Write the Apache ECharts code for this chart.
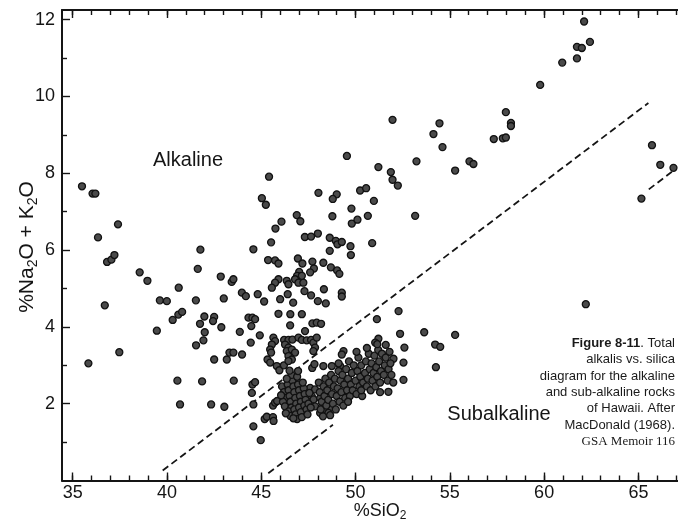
<!DOCTYPE html>
<html>
<head>
<meta charset="utf-8">
<script src="https://cdn.jsdelivr.net/npm/echarts@6/dist/echarts.min.js"></script>
<style>
  html, body { margin: 0; padding: 0; background: #ffffff; }
  #chart { width: 678px; height: 521px; }
</style>
</head>
<body>
<div id="chart"></div>
<script>
// ---- Axis ticks ----
const xMajorTicks = [35, 40, 45, 50, 55, 60, 65];
const xMinorTicks = [35, 36, 37, 38, 39, 40, 41, 42, 43, 44, 45, 46, 47, 48, 49, 50,
                     51, 52, 53, 54, 55, 56, 57, 58, 59, 60, 61, 62, 63, 64, 65, 66, 67];
const yMajorTicks = [2, 4, 6, 8, 10, 12];
const yMinorTicks = [1, 3, 5, 7, 9, 11];
const xRange = [34.43, 67.1];
const yRange = [0, 12.25];

// ---- Samples: [%SiO2, %Na2O + K2O] ----
// low-silica alkalic lavas
const lowSilicaSamples = [
  [35.49,7.66],[36.05,7.47],[36.20,7.47],[37.40,6.67],[36.34,6.33],[36.82,5.69],[37.05,5.75],
  [37.21,5.87],[36.70,4.56],[38.55,5.42],[38.96,5.20],[39.62,4.69],[39.99,4.67],[40.62,5.02],
  [40.30,4.18],[40.60,4.32],[40.80,4.39],[41.77,6.01],[41.63,5.51],[41.53,4.69],[42.85,5.31],
  [43.01,4.74],[41.98,4.27],[41.75,4.08],[42.50,4.26],[42.44,4.15],[42.88,3.99],[39.46,3.90],
  [35.83,3.05],[37.47,3.34],[40.55,2.60],[40.69,1.98],[41.54,3.52],[41.86,2.58],[41.93,3.65],
  [42.00,3.86],[42.50,3.15],[42.34,1.98],[43.17,3.15],[43.04,1.92],[43.31,3.33],[43.52,3.33],
  [43.54,2.60],[43.43,5.17],[43.52,5.24],[43.86,3.87],[43.98,3.28],[43.97,4.89]
];

// alkalic basalts and hawaiites, 44-50 % SiO2
const alkalicBasaltSamples = [
  [44.18,4.80],[44.44,3.59],[44.32,4.24],[44.53,4.24],[44.67,4.20],[44.47,4.02],[44.81,4.85],
  [44.92,3.78],[45.15,4.66],[44.58,6.02],
  [45.41,7.91],[45.03,7.35],[45.24,7.18],[48.03,7.49],[49.00,7.45],[48.79,7.33],[49.78,7.08],
  [46.88,6.91],[47.07,6.75],[46.07,6.74],[45.75,6.56],[48.77,6.88],[49.80,6.69],[45.52,6.20],
  [47.31,6.34],[47.64,6.35],[48.00,6.43],[48.63,6.32],[48.95,6.24],[49.04,6.15],[49.27,6.21],
  [49.73,6.10],[48.63,5.98],[49.75,5.87],[45.36,5.74],[45.73,5.73],[45.91,5.65],[46.94,5.78],
  [47.18,5.65],[47.71,5.70],[47.79,5.52],[48.29,5.67],[48.69,5.55],[49.02,5.47],[49.14,5.38],
  [47.01,5.43],[46.90,5.33],[46.79,5.24],[46.97,5.15],[47.23,5.15],[47.15,5.33],[47.59,5.42],
  [45.91,5.24],[45.73,5.15],[45.56,5.02],[46.35,5.20],[46.44,5.11],[46.00,4.72],[46.40,4.85],
  [46.69,4.63],[47.29,4.93],[47.64,4.82],[48.00,4.67],[48.42,4.61],[48.32,4.98],[49.27,4.89],
  [49.27,4.79],[45.91,4.34],[46.54,4.33],[47.15,4.33],[46.53,4.04],[47.71,4.09],[47.94,4.11],
  [48.17,4.08],
  [45.64,3.72],[45.73,3.63],[45.56,3.54],[45.47,3.41],[45.52,3.33],[46.21,3.66],[46.44,3.66],
  [46.65,3.67],[46.97,3.72],[47.15,3.66],[47.41,3.65],[47.64,3.66],[47.32,3.89],[46.26,3.54],
  [46.44,3.46],[46.35,3.37],[46.62,3.41],[46.79,3.33],[46.44,3.24],[46.62,3.15],[47.76,3.59],
  [47.85,3.46],[47.76,3.37],[47.94,3.72],
  [45.33,3.15],[45.47,3.07],[45.82,2.98],[45.96,2.87],[46.20,3.00],[46.44,3.11],[47.70,2.93],
  [47.82,3.03],[48.29,2.98],[48.74,2.98],[49.18,2.98],[49.36,3.37],[49.27,3.28]
];

// differentiated alkalic lavas (mugearites to trachytes)
const evolvedAlkalicSamples = [
  [51.96,9.39],[49.54,8.45],[51.21,8.16],[51.87,8.03],[51.96,7.83],[52.24,7.68],[53.23,8.31],
  [50.24,7.55],[50.56,7.61],[50.97,7.28],[50.65,6.89],[50.10,6.79],[53.16,6.89],[50.88,6.18],
  [54.45,9.30],[54.13,9.02],[54.61,8.68],[55.28,8.07],[56.04,8.31],[56.25,8.24],[57.33,8.89],
  [57.81,8.91],[57.97,8.93],[57.97,9.59],[58.24,9.31],[58.24,9.23],[59.79,10.30],[60.96,10.88],
  [61.74,10.99],[61.74,11.29],[62.00,11.26],[62.43,11.42],[62.12,11.95],[65.72,8.73],
  [66.16,8.22],[66.86,8.14],[65.16,7.34]
];

// scattered tholeiitic samples
const tholeiiteScatter = [
  [51.13,4.20],[52.28,4.41],[52.36,3.82],[53.64,3.86],[55.28,3.79],[54.22,3.54],[54.49,3.48],
  [54.26,2.95],[52.59,3.46],[52.54,3.07],[52.54,2.62],[52.01,3.17],[51.60,3.53],[51.74,2.31],
  [51.21,3.69],[51.04,3.59],[62.21,4.59],
  [44.53,2.50],[44.67,2.56],[44.50,2.28],[44.58,1.98],[44.58,1.41],[44.97,1.05],[45.18,1.60],
  [45.29,1.66],[45.62,1.65],[45.65,1.55],[45.62,1.95],[45.73,2.03],[45.84,2.07],
  [47.59,2.41],[47.85,2.37],[47.68,2.19],[47.77,2.11],[48.12,2.15],[48.29,1.93],[47.85,1.93],
  [48.12,1.76],[48.39,1.85],[48.66,1.89],[48.56,1.76],[48.27,1.67]
];

// picritic tholeiite group near 46-47.5 % SiO2
const picriticGroup = [
  [46.10,2.45],[46.20,2.30],[46.30,2.15],[46.15,2.05],[46.25,1.93],[46.40,2.50],[46.45,2.35],
  [46.50,2.20],[46.55,2.05],[46.60,1.90],[46.45,1.80],[46.55,1.68],[46.65,2.60],[46.70,2.45],
  [46.75,2.30],[46.80,2.15],[46.85,2.00],[46.75,1.85],[46.82,1.72],[46.90,1.60],[46.95,2.50],
  [47.00,2.35],[47.05,2.20],[47.10,2.05],[47.00,1.90],[47.10,1.78],[47.15,1.65],[47.25,2.40],
  [47.30,2.25],[47.35,2.10],[47.28,1.95],[47.40,1.85],[47.45,1.72],[47.50,2.00],[47.55,2.28],
  [46.60,2.75],[46.50,2.86],[46.35,2.65],[46.90,2.70],[47.62,1.90],[46.30,1.75],[46.70,1.62],
  [47.20,2.55],[46.05,2.22],[46.95,2.85]
];

// main tholeiitic basalt group, 48-52 % SiO2
const tholeiiteGroup = [
  [48.05,2.55],[48.10,2.30],[48.20,2.05],[48.30,2.45],[48.35,2.20],[48.15,1.85],[48.45,1.95],
  [48.40,2.65],[48.50,2.35],[48.55,2.10],[48.60,2.55],[48.65,1.70],[48.70,2.75],[48.75,2.25],
  [48.80,2.00],[48.85,2.45],[48.90,2.65],[48.95,1.85],[49.00,2.20],[49.05,2.40],[49.10,2.85],
  [49.15,2.05],[49.20,2.60],[49.25,2.30],[49.30,2.75],[49.35,1.95],[49.40,2.50],[49.10,3.05],
  [49.45,2.15],[49.50,2.90],[49.55,2.35],[49.60,2.65],[49.65,3.10],[49.70,2.20],[49.75,2.50],
  [49.80,2.80],[49.85,2.35],[49.90,3.00],[49.60,2.05],[50.00,2.60],[50.05,2.25],[50.10,2.85],
  [50.15,3.20],[50.20,2.45],[50.25,2.70],[50.30,3.00],[50.35,2.20],[50.40,2.55],[50.05,3.35],
  [50.30,2.35],[50.50,2.80],[50.55,3.10],[50.60,2.45],[50.65,2.65],[50.70,3.30],[50.75,2.90],
  [50.80,2.35],[50.85,3.05],[50.90,2.60],[50.60,3.45],[50.95,2.80],[51.00,3.25],[51.05,2.45],
  [51.10,2.95],[51.15,2.70],[51.20,3.40],[51.25,3.10],[51.30,2.55],[51.35,2.85],[51.40,3.30],
  [51.15,3.55],[51.30,2.30],[51.50,2.75],[51.55,3.00],[51.60,3.20],[51.70,2.60],[51.75,2.90],
  [51.80,3.35],[51.90,2.75],[52.00,2.55],[51.85,3.05]
];

// ---- Boundary lines ----
const alkalineDivide = [[39.77, 0.26], [65.53, 9.83]];
const lowerTrendStart = [[45.37, 0.19], [48.80, 1.45]];
const lowerTrendEnd = [[65.55, 7.58], [67.00, 8.12]];

const FONT = "'Liberation Sans', Arial, Helvetica, sans-serif";
const INK = '#151515';

const allSamples = [].concat(lowSilicaSamples, alkalicBasaltSamples, evolvedAlkalicSamples,
  tholeiiteScatter, picriticGroup, tholeiiteGroup);

function xAxis(position, ticks, len, withLine, withLabels) {
  return {
    type: 'value', position: position, min: xRange[0], max: xRange[1],
    axisLine: { show: withLine, lineStyle: { color: INK, width: 2 } },
    axisTick: { show: true, inside: true, length: len, customValues: ticks,
                lineStyle: { color: INK, width: 1.4 } },
    axisLabel: { show: withLabels, customValues: xMajorTicks, color: INK, fontSize: 18,
                 fontFamily: FONT, margin: 4 },
    splitLine: { show: false }
  };
}
function yAxis(ticks, len, withLine, withLabels) {
  return {
    type: 'value', position: 'left', min: yRange[0], max: yRange[1],
    axisLine: { show: withLine, lineStyle: { color: INK, width: 2 } },
    axisTick: { show: true, inside: true, length: len, customValues: ticks,
                lineStyle: { color: INK, width: 1.4 } },
    axisLabel: { show: withLabels, customValues: yMajorTicks, color: INK, fontSize: 18,
                 fontFamily: FONT, margin: 7 },
    splitLine: { show: false }
  };
}

function dashed(data) {
  return {
    type: 'line', data: data, xAxisIndex: 0, yAxisIndex: 0, symbol: 'none', silent: true,
    lineStyle: { color: INK, width: 1.8, type: [7, 4] }, z: 3
  };
}

const chart = echarts.init(document.getElementById('chart'), null, { renderer: 'canvas' });

const captionLines = [
  '{b|Figure 8-11}{r|. Total}',
  '{r|alkalis vs. silica}',
  '{r|diagram for the alkaline}',
  '{r|and sub-alkaline rocks}',
  '{r|of Hawaii. After}',
  '{r|MacDonald (1968).}'
];
const captionRich = {
  b: { fontFamily: FONT, fontSize: 13, fontWeight: 'bold', fill: '#1a1a1a' },
  r: { fontFamily: FONT, fontSize: 13, fill: '#1a1a1a' }
};

const graphics = [
  { type: 'text', x: 188, y: 160, style: { text: 'Alkaline', fontFamily: FONT, fontSize: 20,
      fill: INK, align: 'center', verticalAlign: 'middle' } },
  { type: 'text', x: 499, y: 414, style: { text: 'Subalkaline', fontFamily: FONT, fontSize: 20,
      fill: INK, align: 'center', verticalAlign: 'middle' } },
  { type: 'text', x: 27, y: 247, rotation: Math.PI / 2,
    style: { text: '{n|%Na}{s|2}{n|O + K}{s|2}{n|O}', align: 'center', verticalAlign: 'middle',
      rich: { n: { fontFamily: FONT, fontSize: 21, lineHeight: 26, verticalAlign: 'middle', fill: INK },
              s: { fontFamily: FONT, fontSize: 14, lineHeight: 14, verticalAlign: 'bottom', fill: INK } } } },
  { type: 'text', x: 380, y: 511,
    style: { text: '{n|%SiO}{s|2}', align: 'center', verticalAlign: 'middle',
      rich: { n: { fontFamily: FONT, fontSize: 18, lineHeight: 22, verticalAlign: 'middle', fill: INK },
              s: { fontFamily: FONT, fontSize: 12, lineHeight: 12, verticalAlign: 'bottom', fill: INK } } } }
];
const captionY = [343, 359.5, 376, 392, 408.5, 425];
captionLines.forEach(function (t, i) {
  graphics.push({ type: 'text', x: 675, y: captionY[i],
    style: { text: t, rich: captionRich, align: 'right', verticalAlign: 'middle' } });
});
graphics.push({ type: 'text', x: 675, y: 442,
  style: { text: 'GSA Memoir 116', fontFamily: "'Liberation Serif', 'Times New Roman', serif",
    fontSize: 13, fill: '#1a1a1a', align: 'right', verticalAlign: 'middle' } });

chart.setOption({
  animation: false,
  backgroundColor: '#ffffff',
  grid: { left: 62, top: 10, right: 0, bottom: 40.5, containLabel: false },
  xAxis: [
    xAxis('bottom', xMajorTicks, 8, true, true),
    xAxis('bottom', xMinorTicks, 5, false, false),
    xAxis('top', xMajorTicks, 8, true, false),
    xAxis('top', xMinorTicks, 5, false, false)
  ],
  yAxis: [
    yAxis(yMajorTicks, 8, true, true),
    yAxis(yMinorTicks, 5, false, false)
  ],
  series: [
    dashed(alkalineDivide),
    dashed(lowerTrendStart),
    dashed(lowerTrendEnd),
    {
      type: 'scatter', xAxisIndex: 0, yAxisIndex: 0, data: allSamples,
      symbol: 'circle', symbolSize: 7, z: 4,
      itemStyle: { color: '#4a4a4a', borderColor: '#111111', borderWidth: 1.3, opacity: 1 }
    }
  ],
  graphic: graphics
});
</script>
</body>
</html>
